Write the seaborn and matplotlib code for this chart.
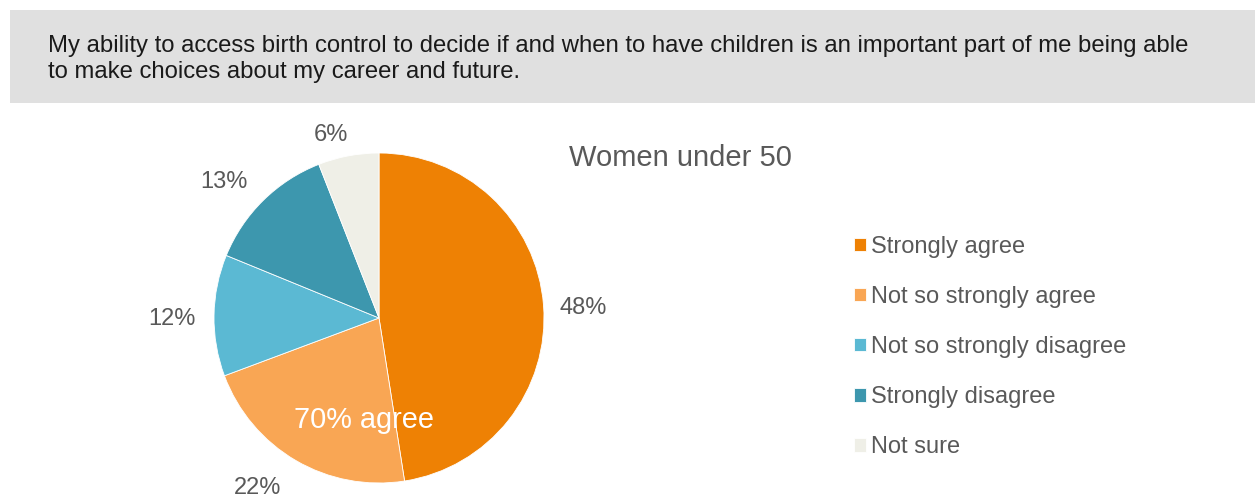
import matplotlib
matplotlib.use("Agg")
import matplotlib.pyplot as plt
from matplotlib.patches import Rectangle
import numpy as np
import seaborn as sns

# Survey responses, women under 50
categories = ["Strongly agree", "Not so strongly agree", "Not so strongly disagree",
              "Strongly disagree", "Not sure"]
values = [48, 22, 12, 13, 6]
value_labels = ["48%", "22%", "12%", "13%", "6%"]
palette = ["#EE8104", "#F9A654", "#5BB9D3", "#3D97AE", "#EFEFE7"]

question_lines = [
    "My ability to access birth control to decide if and when to have children is an important part of me being able",
    "to make choices about my career and future.",
]
subtitle = "Women under 50"
agree_note = "70% agree"

sns.set_theme(style="white")
plt.rcParams["font.family"] = ["Liberation Sans", "DejaVu Sans"]

W, H = 1255, 496
fig = plt.figure(figsize=(W / 100, H / 100), dpi=100)
fig.patch.set_facecolor("white")

# Question banner
fig.patches.append(Rectangle((10 / W, 1 - 103 / H), (W - 10) / W, 93 / H,
                             transform=fig.transFigure, facecolor="#E0E0E0",
                             edgecolor="none", zorder=0))
for i, line in enumerate(question_lines):
    fig.text(48 / W, 1 - (52 + 26 * i) / H, line, ha="left", va="baseline",
             fontsize=17.2, color="#1A1A1A")

# Pie
cx, cy, r = 379, 318, 165
ax = fig.add_axes([(cx - r) / W, (H - cy - r) / H, 2 * r / W, 2 * r / H])
wedges, _ = ax.pie(values, colors=sns.color_palette(palette), startangle=90,
                   counterclock=False, radius=1.0,
                   wedgeprops=dict(linewidth=0.6, edgecolor="white"))
ax.set_xlim(-1, 1)
ax.set_ylim(-1, 1)
ax.set_aspect("equal")
ax.axis("off")

# Outside-end value labels: radial distance and angular nudge per wedge
label_dist = [1.24, 1.255, 1.255, 1.26, 1.16]
label_nudge = [-0.9, -5.5, 0.6, 3.5, 3.8]
half_cap = 8.5 / r
for w, lab, d, nd in zip(wedges, value_labels, label_dist, label_nudge):
    mid = np.deg2rad((w.theta1 + w.theta2) / 2 + nd)
    ax.text(d * np.cos(mid), d * np.sin(mid) - half_cap, lab, ha="center",
            va="baseline", fontsize=17, color="#595959", clip_on=False)

ax.text((364 - cx) / r, (cy - 428) / r, agree_note, ha="center", va="baseline",
        fontsize=20.8, color="white")

fig.text(569 / W, 1 - 166 / H, subtitle, ha="left", va="baseline", fontsize=21,
         color="#595959")

leg = fig.legend(wedges, categories, loc="center left",
                 bbox_to_anchor=(854 / W, 1 - 347 / H), frameon=False,
                 fontsize=17, handlelength=0.51, handleheight=0.51,
                 handletextpad=0.2, labelspacing=1.19, borderpad=0,
                 borderaxespad=0)
for t in leg.get_texts():
    t.set_color("#595959")

fig.savefig("out.png", dpi=100)
